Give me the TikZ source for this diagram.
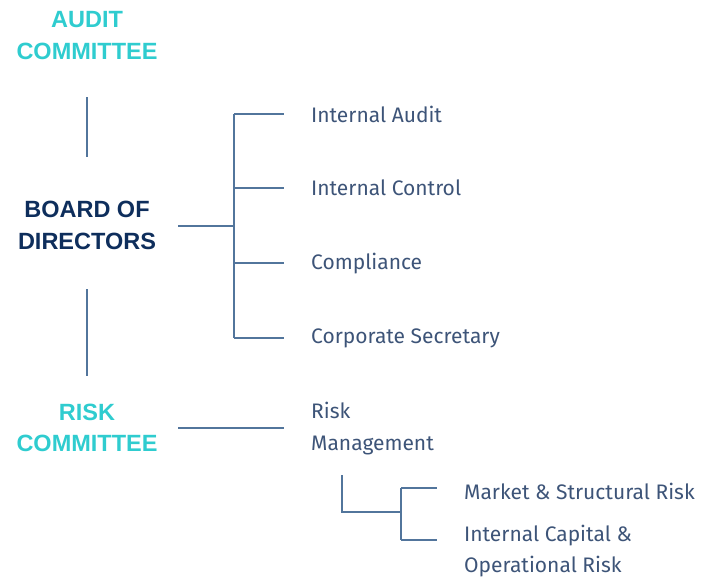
\documentclass[tikz,border=0pt]{standalone}
\usepackage{fontspec}
\setmainfont{Fira Sans}
\newfontfamily\headfont{Liberation Sans}
\definecolor{teal}{HTML}{2FCCCF}
\definecolor{navy}{HTML}{0E2E5C}
\definecolor{item}{HTML}{3D5478}
\definecolor{ln}{HTML}{52759C}
\begin{document}
\begin{tikzpicture}[x=1pt,y=-1pt,
  head/.style={font=\headfont\fontsize{23.5}{31.5}\selectfont\bfseries, align=center, inner sep=0pt},
  lab/.style={font=\fontsize{21}{31.5}\selectfont, text=item, align=left, anchor=west, inner sep=0pt},
  conn/.style={draw=ln, line width=1.2pt}]
\useasboundingbox (0,0) rectangle (706,578);
\node[head, text=teal] (audit) at (87,35.5) {AUDIT\\COMMITTEE};
\node[head, text=navy] (board) at (87,225.5) {BOARD OF\\DIRECTORS};
\node[head, text=teal] (risk) at (87,428) {RISK\\COMMITTEE};
\coordinate (a1) at (87,97); \coordinate (a2) at (87,157);
\coordinate (b1) at (87,289); \coordinate (b2) at (87,376);
\draw[conn] (a1) -- (a2);
\draw[conn] (b1) -- (b2);
\node[lab] (ia) at (311,114) {Internal Audit};
\node[lab] (ic) at (311,188) {Internal Control};
\node[lab] (co) at (311,264) {Compliance};
\node[lab] (cs) at (311,338) {Corporate Secretary};
\node[lab] (rm) at (311,428.5) {Risk\\Management};
\node[lab] (ms) at (464,491) {Market \& Structural Risk};
\node[lab] (ico) at (464,551) {Internal Capital \&\\Operational Risk};
\coordinate (bh) at (178,226); \coordinate (bj) at (234,226);
\coordinate (t1) at (234,114); \coordinate (t4) at (234,338);
\draw[conn] (bh) -- (bj);
\draw[conn] (t1) -- (t4);
\foreach \y in {114,188,263,338}{
  \draw[conn] (234,\y) -- (284,\y);
}
\coordinate (rh) at (178,428); \coordinate (re) at (284,428);
\draw[conn] (rh) -- (re);
\coordinate (s1) at (342,475); \coordinate (s2) at (342,512); \coordinate (s3) at (401,512);
\draw[conn] (s1) -- (s2) -- (s3);
\coordinate (u1) at (401,488); \coordinate (u2) at (401,540);
\draw[conn] (u1) -- (u2);
\draw[conn] (u1) -- (437,488);
\draw[conn] (u2) -- (437,540);
\end{tikzpicture}
\end{document}
